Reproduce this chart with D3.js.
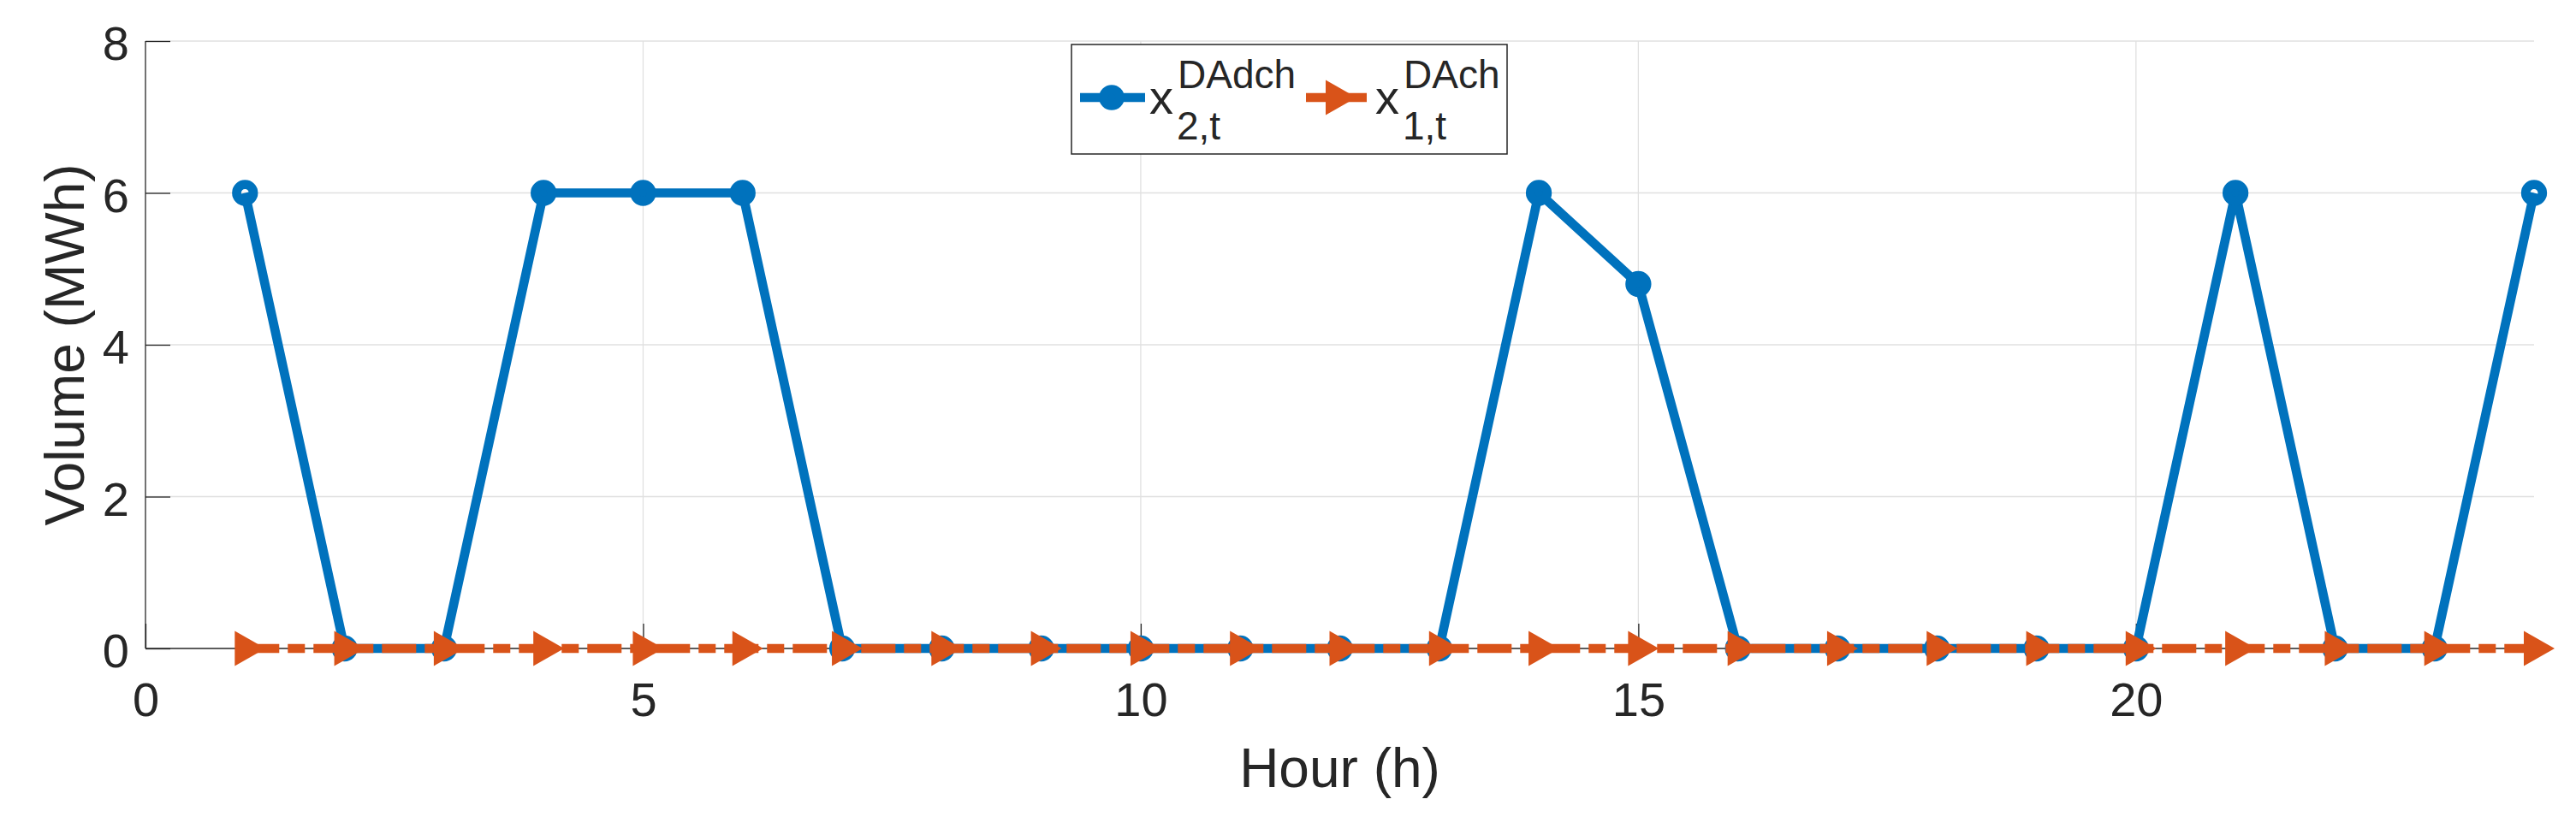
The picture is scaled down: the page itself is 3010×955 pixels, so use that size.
<!DOCTYPE html>
<html>
<head>
<meta charset="utf-8">
<script src="https://cdn.jsdelivr.net/npm/d3@7"></script>
<style>
  html, body { margin: 0; padding: 0; background: #ffffff; }
  svg { display: block; }
  text { font-family: "Liberation Sans", Arial, Helvetica, sans-serif; fill: #262626; }
</style>
</head>
<body>
<svg id="chart" width="3010" height="955"></svg>
<script>
// ---- data ----
const hours = [1,2,3,4,5,6,7,8,9,10,11,12,13,14,15,16,17,18,19,20,21,22,23,24];
const dadch2 = [6,0,0,6,6,6,0,0,0,0,0,0,0,6,4.8,0,0,0,0,0,6,0,0,6];
const dach1  = [0,0,0,0,0,0,0,0,0,0,0,0,0,0,0,0,0,0,0,0,0,0,0,0];
const xTickValues = [0,5,10,15,20];
const yTickValues = [0,2,4,6,8];
const xLabel = "Hour (h)";
const yLabel = "Volume (MWh)";
const seriesNames = [
  {base: "x", sup: "DAdch", sub: "2,t"},
  {base: "x", sup: "DAch",  sub: "1,t"}
];

// ---- layout ----
const L = 170, R = 2961, T = 48, B = 758;
const blue = "#0072BD", orange = "#D95319", axisCol = "#262626", gridCol = "#e0e0e0";
const LW = 10.7;

const svg = d3.select("#chart");
const x = d3.scaleLinear().domain([0, 24]).range([L, R]);
const y = d3.scaleLinear().domain([0, 8]).range([B, T]);

// grid
const g = svg.append("g");
g.selectAll(".hg").data(yTickValues.filter(v => v > 0)).join("line")
  .attr("x1", L).attr("x2", R).attr("y1", d => y(d)).attr("y2", d => y(d))
  .attr("stroke", gridCol).attr("stroke-width", 1.3);
g.selectAll(".vg").data(xTickValues.filter(v => v > 0)).join("line")
  .attr("y1", T).attr("y2", B).attr("x1", d => x(d)).attr("x2", d => x(d))
  .attr("stroke", gridCol).attr("stroke-width", 1.3);

// axes (inward ticks)
const tickLen = 29;
const xAxis = d3.axisBottom(x).tickValues(xTickValues).tickSizeInner(-tickLen).tickSizeOuter(0).tickPadding(42);
const yAxis = d3.axisLeft(y).tickValues(yTickValues).tickSizeInner(-tickLen).tickSizeOuter(0).tickPadding(19);

const gx = svg.append("g").attr("transform", `translate(0,${B})`).call(xAxis);
gx.select(".domain").attr("stroke", axisCol).attr("stroke-width", 1.3).attr("d", `M${L},0H${R}`);
gx.selectAll(".tick line").attr("stroke", axisCol).attr("stroke-width", 1.3);
gx.selectAll(".tick text").attr("font-size", 56).attr("fill", axisCol)
  .attr("font-family", "Liberation Sans, Arial, sans-serif").attr("dy", "0.71em").attr("y", 39);

const gy = svg.append("g").attr("transform", `translate(${L},0)`).call(yAxis);
gy.select(".domain").attr("stroke", axisCol).attr("stroke-width", 1.3).attr("d", `M0,${B}V${T}`);
gy.selectAll(".tick line").attr("stroke", axisCol).attr("stroke-width", 1.3);
gy.selectAll(".tick text").attr("font-size", 56).attr("fill", axisCol)
  .attr("font-family", "Liberation Sans, Arial, sans-serif").attr("dy", "0.39em");

// axis labels
svg.append("text").attr("x", (L + R) / 2).attr("y", 920).attr("text-anchor", "middle")
  .attr("font-size", 64).text(xLabel);
svg.append("text").attr("transform", `translate(98,${(T + B) / 2}) rotate(-90)`)
  .attr("text-anchor", "middle").attr("font-size", 64).text(yLabel);

// series 1 (blue, circles)
const line = d3.line().x(d => x(d[0])).y(d => y(d[1]));
const blueData = hours.map((h, i) => [h, dadch2[i]]);
const orangeData = hours.map((h, i) => [h, dach1[i]]);

svg.append("path").datum(blueData).attr("d", line)
  .attr("fill", "none").attr("stroke", blue).attr("stroke-width", LW)
  .attr("stroke-linejoin", "round");
svg.append("g").selectAll("circle").data(blueData).join("circle")
  .attr("cx", d => x(d[0])).attr("cy", d => y(d[1])).attr("r", 9.8)
  .attr("fill", "none").attr("stroke", blue).attr("stroke-width", LW);

// series 2 (orange, dash-dot, right triangles)
svg.append("path").datum(orangeData).attr("d", line)
  .attr("fill", "none").attr("stroke", orange).attr("stroke-width", LW)
  .attr("stroke-dasharray", "40,10,20,10");
const tri = "M-12,-20.5L24,0L-12,20.5Z";
svg.append("g").selectAll("path").data(orangeData).join("path")
  .attr("transform", d => `translate(${x(d[0])},${y(d[1])})`)
  .attr("d", tri).attr("fill", orange);

// legend
const lg = svg.append("g");
lg.append("rect").attr("x", 1252).attr("y", 52).attr("width", 509).attr("height", 128)
  .attr("fill", "#ffffff").attr("stroke", axisCol).attr("stroke-width", 1.5);
const ly = 114;
// entry 1
lg.append("line").attr("x1", 1262).attr("x2", 1338).attr("y1", ly).attr("y2", ly)
  .attr("stroke", blue).attr("stroke-width", LW);
lg.append("circle").attr("cx", 1299).attr("cy", ly).attr("r", 9.5)
  .attr("fill", blue).attr("stroke", blue).attr("stroke-width", LW);
// entry 2
lg.append("line").attr("x1", 1526).attr("x2", 1597).attr("y1", ly).attr("y2", ly)
  .attr("stroke", orange).attr("stroke-width", LW);
lg.append("path").attr("transform", `translate(1561,${ly})`).attr("d", tri).attr("fill", orange);

const textX = [1343, 1607];
seriesNames.forEach((s, i) => {
  lg.append("text").attr("x", textX[i]).attr("y", 133).attr("font-size", 56).text(s.base);
  lg.append("text").attr("x", textX[i] + 33).attr("y", 103).attr("font-size", 46).text(s.sup);
  lg.append("text").attr("x", textX[i] + 32).attr("y", 163).attr("font-size", 46).text(s.sub);
});
</script>
</body>
</html>
